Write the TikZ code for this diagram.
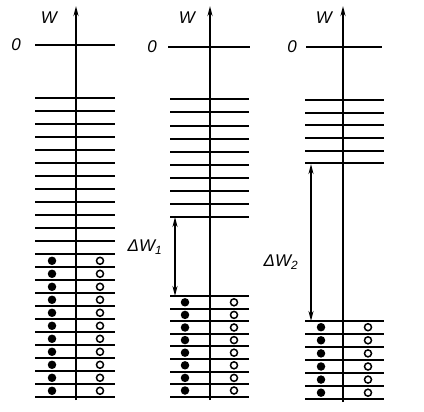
\documentclass[tikz,border=0pt]{standalone}
\usepackage{fontspec}
\setmainfont{Liberation Sans}
\usepackage{tikz}
\usetikzlibrary{arrows.meta, positioning, calc}

\begin{document}
\begin{tikzpicture}[
        x=1pt, y=-1pt,
        level/.style={line width=2pt},
        axis/.style={line width=2pt, -{Stealth[length=10pt, width=5pt]}},
        gap/.style={line width=1.6pt, {Stealth[length=10pt, width=5pt]}-{Stealth[length=10pt, width=5pt]}},
        lbl/.style={font=\fontsize{17}{19}\selectfont\itshape, inner sep=0pt},
        electron/.style={circle, fill, inner sep=0pt, minimum size=8.5pt},
        hole/.style={circle, draw, line width=1.5pt, inner sep=0pt, minimum size=7pt}
    ]
    \useasboundingbox (0,0) rectangle (424,412);

    % left metal: one wide band
    \foreach \k in {0,...,23} {
        \pgfmathsetmacro{\yy}{round(98.3+13*\k)}
        \draw[level] (35,\yy) -- (115,\yy);
    }
    \foreach \k in {12,...,22} {
        \node[electron] (la\k) at (52,98.3+13*\k+6.5) {};
        \node[hole] (lb\k) at (100,98.3+13*\k+6.5) {};
    }
    \draw[level] (35,45) -- (115,45);
    \coordinate (lbot) at (76,400);
    \coordinate (ltop) at (76,6);
    \draw[axis] (lbot) -- (ltop);
    \node[lbl] (lw) at (49,18) {W};
    \node[lbl] (lzero) at (16,45) {0};

    % middle metal: gap DW1
    \foreach \k in {0,...,9} {
        \pgfmathsetmacro{\yy}{round(99.3+13.1*\k)}
        \draw[level] (170,\yy) -- (249,\yy);
    }
    \foreach \k in {0,...,8} {
        \pgfmathsetmacro{\yy}{round(296+12.6*\k)}
        \draw[level] (170,\yy) -- (249,\yy);
    }
    \foreach \k in {0,...,7} {
        \node[electron] (ma\k) at (185,296+12.6*\k+6.3) {};
        \node[hole] (mb\k) at (234,296+12.6*\k+6.3) {};
    }
    \draw[level] (168,47) -- (250,47);
    \coordinate (mbot) at (210,400);
    \coordinate (mtop) at (210,6);
    \draw[axis] (mbot) -- (mtop);
    \coordinate (mhi) at (175,217);
    \coordinate (mlo) at (175,296);
    \draw[gap] (mhi) -- (mlo);
    \node[lbl] (mw) at (187,18) {W};
    \node[lbl] (mzero) at (152,47) {0};
    \node[lbl] (mdw) at (145,247) {ΔW\textsubscript{1}};

    % right metal: gap DW2
    \foreach \k in {0,...,5} {
        \pgfmathsetmacro{\yy}{round(100+12.7*\k)}
        \draw[level] (305,\yy) -- (384,\yy);
    }
    \foreach \k in {0,...,6} {
        \pgfmathsetmacro{\yy}{round(320.7+13.1*\k)}
        \draw[level] (305,\yy) -- (384,\yy);
    }
    \foreach \k in {0,...,5} {
        \node[electron] (ra\k) at (321,320.7+13.1*\k+6.5) {};
        \node[hole] (rb\k) at (368,320.7+13.1*\k+6.5) {};
    }
    \draw[level] (306,47) -- (382,47);
    \coordinate (rbot) at (343,402);
    \coordinate (rtop) at (343,6);
    \draw[axis] (rbot) -- (rtop);
    \coordinate (rhi) at (311,164);
    \coordinate (rlo) at (311,321);
    \draw[gap] (rhi) -- (rlo);
    \node[lbl] (rw) at (324,18) {W};
    \node[lbl] (rzero) at (292,47) {0};
    \node[lbl] (rdw) at (281,262) {ΔW\textsubscript{2}};
\end{tikzpicture}
\end{document}
